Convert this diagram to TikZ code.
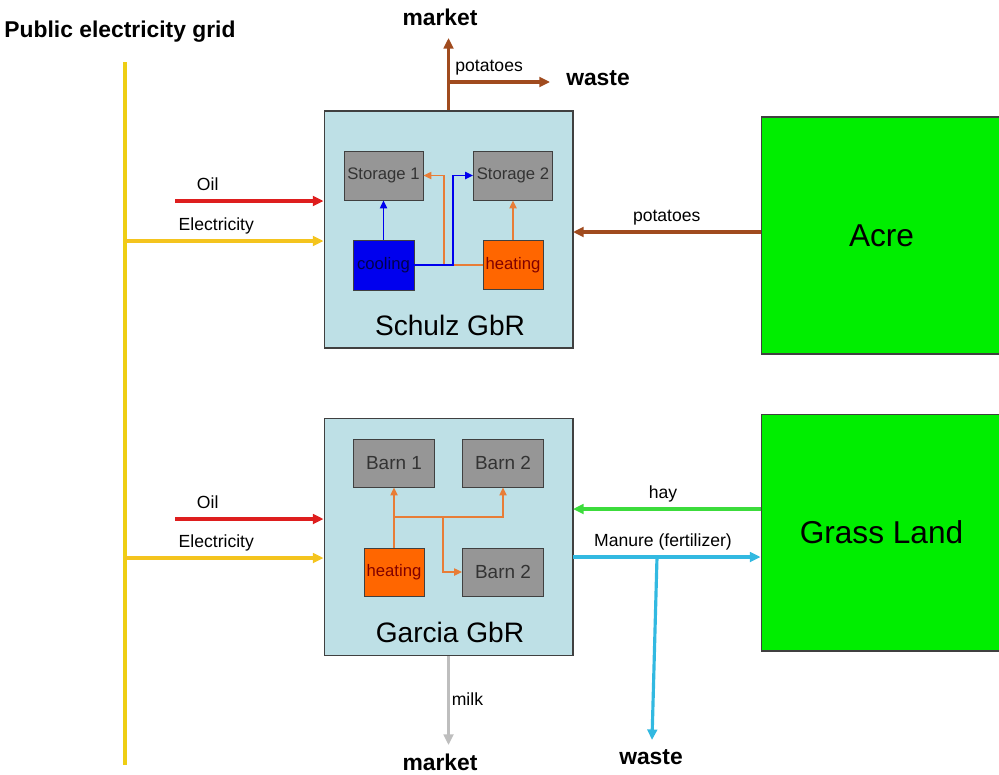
\documentclass[tikz,border=0pt]{standalone}
\usepackage{fontspec}
\setmainfont{Liberation Sans}
\usetikzlibrary{positioning, arrows.meta}

\definecolor{boxblue}{RGB}{190,224,230}
\definecolor{fieldgreen}{RGB}{0,238,0}
\definecolor{unitgray}{RGB}{150,150,150}
\definecolor{heatorange}{RGB}{255,102,0}
\definecolor{coolblue}{RGB}{0,0,238}
\definecolor{gridyellow}{RGB}{238,206,20}
\definecolor{elecyellow}{RGB}{244,196,30}
\definecolor{oilred}{RGB}{222,30,30}
\definecolor{potbrown}{RGB}{160,75,30}
\definecolor{haygreen}{RGB}{60,220,60}
\definecolor{manurecyan}{RGB}{50,185,225}
\definecolor{milkgray}{RGB}{190,190,190}
\definecolor{heatline}{RGB}{232,125,55}

\begin{document}
\begin{tikzpicture}[
            x=0.02cm, y=-0.02cm,
            farm box/.style={draw=black!75, fill=boxblue, line width=0.6pt, minimum width=4.98cm, minimum height=4.74cm},
            field box/.style={draw=black!75, fill=fieldgreen, line width=0.6pt, minimum width=4.82cm, minimum height=4.74cm, font=\fontsize{18}{20}\selectfont},
            unit box/.style={draw=black!75, fill=unitgray, line width=0.5pt, minimum width=1.58cm, minimum height=0.98cm, inner sep=1pt, text=black!80, font=\fontsize{9.5}{11}\selectfont},
            barn box/.style={unit box, minimum width=1.62cm, minimum height=0.96cm, font=\fontsize{10.8}{12}\selectfont},
            heat box/.style={unit box, fill=heatorange, minimum width=1.2cm, minimum height=0.98cm, text=red!50!black},
            cool box/.style={unit box, fill=coolblue, minimum width=1.22cm, minimum height=1cm, text=blue!30!black},
            title text/.style={font=\fontsize{16}{18}\selectfont},
            end text/.style={font=\bfseries\fontsize{13}{15}\selectfont},
            flow label/.style={font=\fontsize{10}{12}\selectfont, inner xsep=1pt, inner ysep=3pt, text depth=2pt},
            flow arrow/.style={-{Triangle[length=6pt,width=5.5pt]}, line width=1.8pt},
            inner arrow/.style={-{Triangle[length=4.5pt,width=4pt]}, line width=1pt},
            oil arrow/.style={flow arrow, draw=oilred},
            elec arrow/.style={flow arrow, draw=elecyellow},
            pot arrow/.style={flow arrow, draw=potbrown},
            hay arrow/.style={flow arrow, draw=haygreen},
            manure arrow/.style={flow arrow, draw=manurecyan},
            milk arrow/.style={flow arrow, draw=milkgray},
            heat arrow/.style={inner arrow, draw=heatline},
            cool arrow/.style={inner arrow, draw=coolblue}
        ]
            \useasboundingbox (0,0) rectangle (999,774);

            % --- Farms and fields ---
            \node[farm box] (schulz) at (448.5,229.5) {};
            \node[farm box] (garcia) at (448.5,537) {};
            \node[title text] (schulzname) at (450,325) {Schulz GbR};
            \node[title text] (garcianame) at (450,632) {Garcia GbR};
            \node[field box] (acre) at (881.5,235.5) {Acre};
            \node[field box] (grass) at (881.5,532.5) {Grass Land};

            % --- Schulz units ---
            \node[unit box] (store1) at (383.5,175.5) {Storage 1};
            \node[unit box] (store2) at (513,175.5) {Storage 2};
            \node[cool box] (cool) at (383.5,265) {cooling};
            \node[heat box] (heat1) at (513,265) {heating};

            \coordinate (heatbend) at (444,265);
            \coordinate (coolbend) at (453,265);
            \draw[heat arrow] (heat1) -- (store2);
            \draw[heat arrow] (heat1.west) -- (heatbend) |- (store1.east);
            \draw[cool arrow] (cool) -- (store1);
            \draw[cool arrow] (cool.east) -- (coolbend) |- (store2.west);

            % --- Garcia units ---
            \node[barn box] (barn1) at (394,463) {Barn 1};
            \node[barn box] (barn2) at (503,463) {Barn 2};
            \node[barn box] (barn3) at (503,572) {Barn 2};
            \node[heat box, minimum height=0.96cm] (heat2) at (394,572) {heating};

            \coordinate (split1) at (394,517);
            \coordinate (split2) at (443,517);
            \draw[heat arrow] (heat2) -- (barn1);
            \draw[heat arrow] (split1) -| (barn2);
            \draw[heat arrow] (split2) |- (barn3.west);

            % --- Public grid ---
            \node[end text] (gridname) at (120,32) {Public electricity grid};
            \coordinate (gridtop) at (125,62);
            \coordinate (gridbot) at (125,765);
            \draw[draw=gridyellow, line width=1.8pt] (gridtop) -- (gridbot);

            % --- Inputs on the left ---
            \coordinate (oil1) at (175,201);
            \coordinate (elec1) at (125,241);
            \coordinate (oil2) at (175,519);
            \coordinate (elec2) at (125,558);
            \draw[oil arrow] (oil1) -- node[flow label, above, pos=0.22] {Oil} (oil1 -| schulz.west);
            \draw[elec arrow] (elec1) -- node[flow label, above, pos=0.46] {Electricity} (elec1 -| schulz.west);
            \draw[oil arrow] (oil2) -- node[flow label, above, pos=0.22] {Oil} (oil2 -| garcia.west);
            \draw[elec arrow] (elec2) -- node[flow label, above, pos=0.46] {Electricity} (elec2 -| garcia.west);

            % --- Fields ---
            \coordinate (potin) at (573,232);
            \coordinate (hayin) at (573,509);
            \coordinate (manout) at (573,557);
            \coordinate (mansplit) at (657,557);
            \draw[pot arrow] (potin -| acre.west) -- node[flow label, above] {potatoes} (potin);
            \draw[hay arrow] (hayin -| grass.west) -- node[flow label, above, pos=0.52] {hay} (hayin);
            \draw[manure arrow] (manout) -- node[flow label, above, pos=0.48] {Manure (fertilizer)} (manout -| grass.west);

            % --- Outputs ---
            \node[end text] (market1) at (440,17) {market};
            \node[end text] (waste1) at (598,78) {waste};
            \node[end text] (market2) at (440,762) {market};
            \node[end text] (waste2) at (651,757) {waste};
            \coordinate (mkt1) at (448.5,38);
            \coordinate (potsplit) at (448.5,82);
            \coordinate (wst1) at (550,82);
            \coordinate (mkt2) at (448.5,745);
            \coordinate (wst2) at (652,740);
            \draw[pot arrow] (schulz.north) -- (mkt1);
            \draw[pot arrow] (potsplit) -- node[flow label, above, pos=0.4] {potatoes} (wst1);
            \draw[milk arrow] (garcia.south) -- node[flow label, right, pos=0.5] {milk} (mkt2);
            \draw[manure arrow] (mansplit) -- (wst2);

        \end{tikzpicture}
\end{document}
